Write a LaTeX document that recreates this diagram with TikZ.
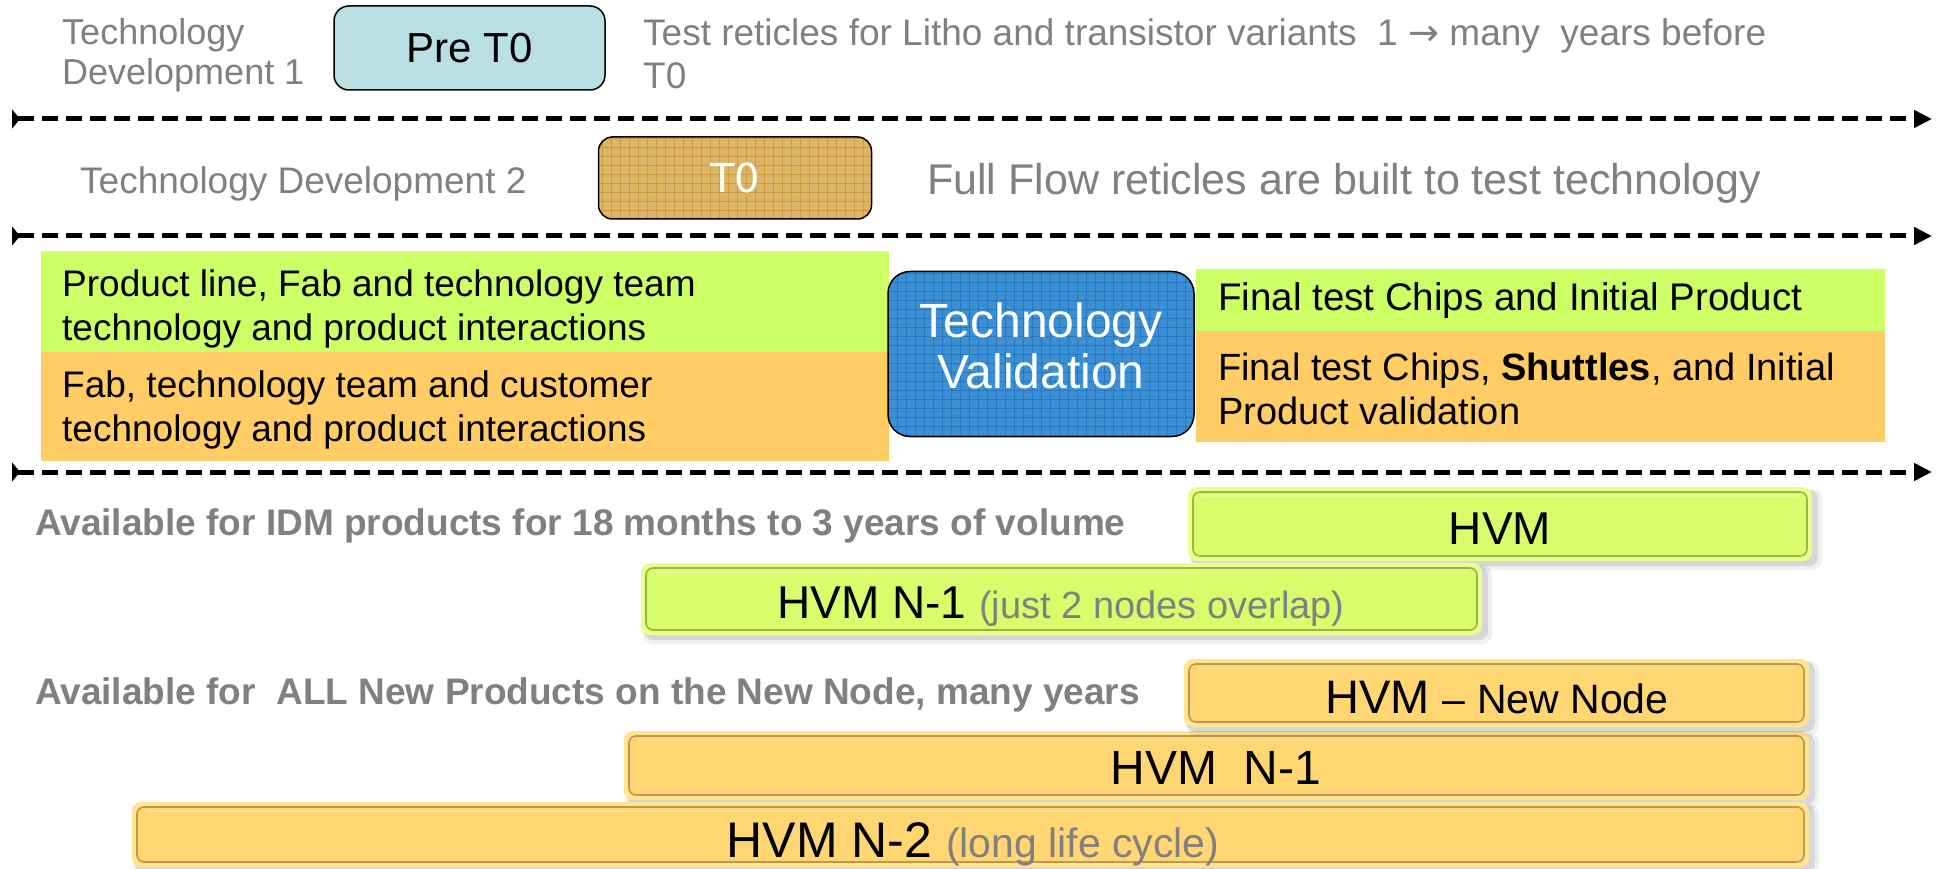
\documentclass[tikz,border=0pt]{standalone}
\usepackage{fontspec}
\setmainfont{Liberation Sans}
\newfontfamily\dejavu{DejaVu Sans}
\usetikzlibrary{arrows.meta}
\definecolor{txtgray}{HTML}{808080}
\definecolor{pretfill}{HTML}{B9DFE3}
\definecolor{tzfill}{HTML}{DCB466}
\definecolor{tzgrid}{HTML}{CC9A3C}
\definecolor{tvfill}{HTML}{3D8FD3}
\definecolor{tvgrid}{HTML}{2478C4}
\definecolor{lgreen}{HTML}{CCFF66}
\definecolor{lorange}{HTML}{FFCC66}
\definecolor{bgreen}{HTML}{D8FC6C}
\definecolor{bgreenlight}{HTML}{E8FF8E}
\definecolor{bgreendark}{HTML}{98B448}
\definecolor{borange}{HTML}{FFD672}
\definecolor{borangelight}{HTML}{FFE590}
\definecolor{borangedark}{HTML}{C09650}
\newcommand\hvmbar[7]{%
  \fill[black,opacity=0.06,rounded corners=10pt] (#1+2,#2+2) rectangle (#3+10,#4+9);
  \fill[black,opacity=0.10,rounded corners=9pt] (#1+3,#2+3) rectangle (#3+6,#4+5);
  \fill[#6,rounded corners=9pt] (#1,#2) rectangle (#3,#4);
  \draw[#7,fill=#5,line width=1.6pt,rounded corners=7pt] (#1+5,#2+5) rectangle (#3-5,#4-5);
  \draw[#6,line width=2.5pt] (#1+14,#2+9) -- (#3-14,#2+9);
}
\begin{document}
\begin{tikzpicture}[x=1pt,y=-1pt,
  greytxt/.style={text=txtgray,inner sep=0pt,anchor=west,align=left},
  blacktxt/.style={text=black,inner sep=0pt,anchor=west,align=left,font=\fontsize{37}{44}\selectfont},
  timeline/.style={line width=5pt,dash pattern=on 16pt off 8pt,
    {Triangle[reversed,length=8pt,width=19pt]}-{Triangle[length=18pt,width=17pt]}},
  bartxt/.style={inner sep=0pt,text=black,font=\fontsize{46}{50}\selectfont},
  bandbox/.style={inner sep=0pt,anchor=north west,draw=none},
]
\useasboundingbox (0,0) rectangle (1939,869);
\fill[white] (0,0) rectangle (1939,869);

% ---- row 1
\node[greytxt,font=\fontsize{36}{40}\selectfont] (td1) at (62,55) {Technology\\Development 1};
\node[draw=black,line width=1.5pt,fill=pretfill,rounded corners=15pt,
      minimum width=271pt,minimum height=84pt,inner sep=0pt,
      font=\fontsize{42}{46}\selectfont] (pret0) at (469.5,48) {Pre T0};
\node[greytxt,font=\fontsize{37}{43}\selectfont] (row1txt) at (643,54)
  {Test reticles for Litho and transistor variants\ \ 1 {\dejavu →} many\ \ years before\\T0};

\coordinate (l1s) at (12,119);
\coordinate (l1e) at (1932,119);
\draw[timeline] (l1s) -- (l1e);

% ---- row 2
\node[greytxt,font=\fontsize{37}{40}\selectfont] (td2) at (80,184) {Technology Development 2};
\node[draw=black,line width=1.5pt,fill=tzfill,rounded corners=14pt,
      minimum width=273pt,minimum height=82pt,inner sep=0pt,text=white,
      font=\dejavu\fontsize{40}{44}\selectfont,
      path picture={\draw[tzgrid,line width=0.7pt] ([shift={(-3pt,-3pt)}]path picture bounding box.south west) grid[step=9pt] (path picture bounding box.north east);}]
      (t0) at (735,178) {T0};
\node[greytxt,font=\fontsize{43}{46}\selectfont] (row2txt) at (927,183)
  {Full Flow reticles are built to test technology};

\coordinate (l2s) at (12,236);
\coordinate (l2e) at (1932,236);
\draw[timeline] (l2s) -- (l2e);

% ---- row 3
\node[bandbox,fill=lgreen,minimum width=848pt,minimum height=101pt] (lgbox) at (41,251) {};
\node[bandbox,fill=lorange,minimum width=848pt,minimum height=109pt] (lobox) at (41,352) {};
\node[bandbox,fill=lgreen,minimum width=689pt,minimum height=62pt] (rgbox) at (1196,269) {};
\node[bandbox,fill=lorange,minimum width=689pt,minimum height=111pt] (robox) at (1196,331) {};

\node[blacktxt] (lgtxt) at (62,309) {Product line, Fab and technology team\\technology and product interactions};
\node[blacktxt] (lotxt) at (62,410) {Fab, technology team and customer\\technology and product interactions};
\node[blacktxt,font=\fontsize{38.5}{44}\selectfont] (rgtxt) at (1218,301) {Final test Chips and Initial Product};
\node[blacktxt,font=\fontsize{38}{44}\selectfont] (rotxt) at (1218,389) {Final test Chips, \textbf{Shuttles}, and Initial\\Product validation};

\node[draw=black,line width=1.5pt,fill=tvfill,rounded corners=22pt,
      minimum width=306pt,minimum height=165pt,inner sep=0pt,align=center,
      path picture={\draw[tvgrid,line width=0.7pt] ([shift={(-3pt,-3pt)}]path picture bounding box.south west) grid[step=9pt] (path picture bounding box.north east);}]
      (tv) at (1041,354) {};
\node[text=white,align=center,inner sep=0pt,font=\fontsize{48}{51}\selectfont] (tvtxt) at (1041,346) {Technology\\Validation};

\coordinate (l3s) at (12,472);
\coordinate (l3e) at (1932,472);
\draw[timeline] (l3s) -- (l3e);

% ---- row 4
\node[greytxt,font=\bfseries\fontsize{37}{40}\selectfont] (idm) at (35,526)
  {Available for IDM products for 18 months to 3 years of volume};
\hvmbar{1188}{487}{1812}{561}{bgreen}{bgreenlight}{bgreendark}
\node[bartxt] (hvm) at (1500,529) {HVM};
\hvmbar{641}{563}{1482}{635}{bgreen}{bgreenlight}{bgreendark}
\node[bartxt] (hvmn1g) at (1061,607) {HVM N-1\ {\color{txtgray}\fontsize{38}{42}\selectfont (just 2 nodes overlap)}};

% ---- row 5
\node[greytxt,font=\bfseries\fontsize{37}{40}\selectfont] (allnew) at (35,695)
  {Available for\ \ ALL New Products on the New Node, many years};
\hvmbar{624}{731}{1809}{800}{borange}{borangelight}{borangedark}
\hvmbar{1184}{659}{1809}{727}{borange}{borangelight}{borangedark}
\node[bartxt,font=\fontsize{47}{50}\selectfont] (hvmnew) at (1497,698) {HVM {\fontsize{41}{44}\selectfont -- New Node}};
\node[bartxt,font=\fontsize{48}{50}\selectfont] (hvmn1o) at (1216,768) {HVM\ \ N-1};
\hvmbar{132}{802}{1809}{867}{borange}{borangelight}{borangedark}
\node[bartxt,font=\fontsize{50}{54}\selectfont] (hvmn2) at (973,844) {HVM N-2 {\color{txtgray}\fontsize{41}{44}\selectfont(long life cycle)}};
\end{tikzpicture}
\end{document}
